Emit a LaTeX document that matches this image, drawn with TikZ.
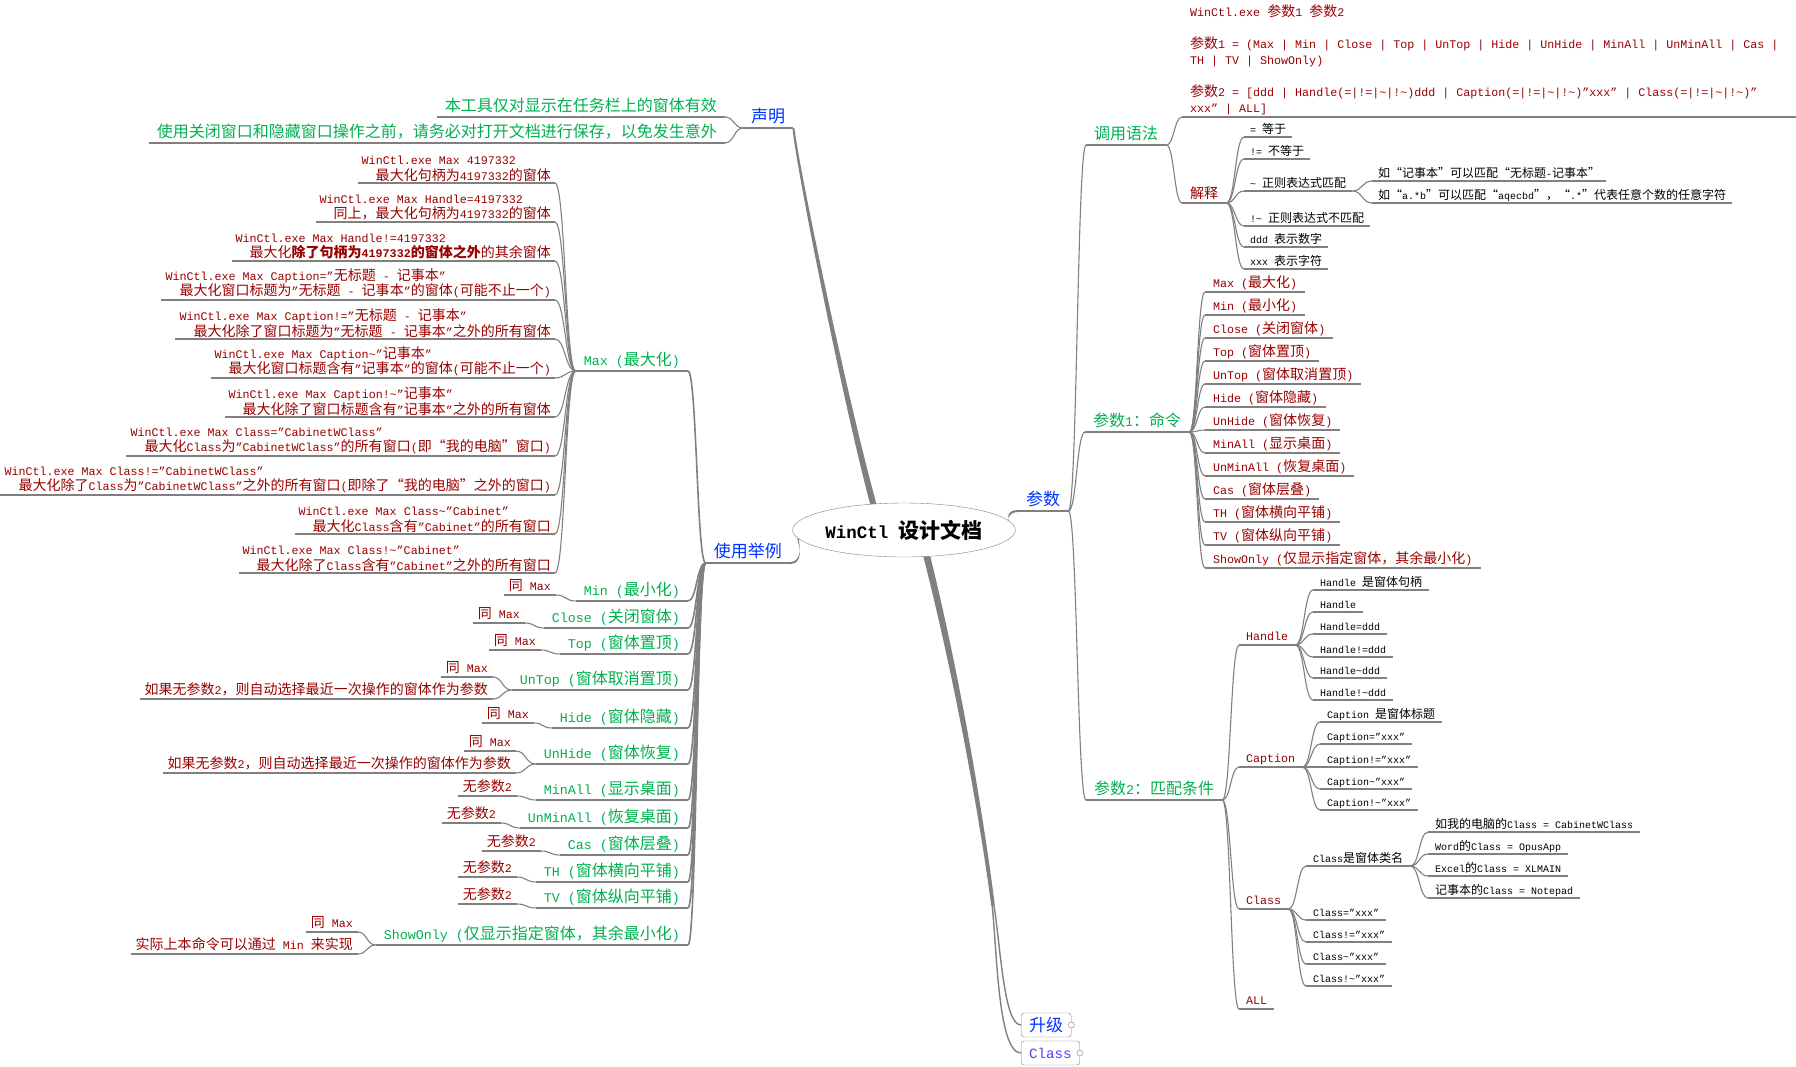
\documentclass[tikz,border=0pt]{standalone}
\usepackage{fontspec}
\setmainfont{Liberation Mono}
\newfontfamily\cjkfont{Noto Sans CJK SC}[Scale=1.2]
\usetikzlibrary{shapes.geometric,calc,backgrounds}
\definecolor{mmred}{HTML}{990000}
\definecolor{mmgreen}{HTML}{00B050}
\definecolor{mmblue}{HTML}{0033FF}
\definecolor{mmviolet}{HTML}{5A3CFF}
\definecolor{mmgray}{HTML}{808080}
\newcommand\tld{\textasciitilde}
% Chinese characters are set in the CJK font, the rest in the mono font
\ifdefined\newXeTeXintercharclass \newXeTeXintercharclass\cjkclass \else \chardef\cjkclass=10 \fi
\newcount\cjkc
\cjkc="3000 \loop\XeTeXcharclass\cjkc=\cjkclass\advance\cjkc by 1 \ifnum\cjkc<"3040 \repeat
\cjkc="4E00 \loop\XeTeXcharclass\cjkc=\cjkclass\advance\cjkc by 1 \ifnum\cjkc<"A000 \repeat
\cjkc="FF00 \loop\XeTeXcharclass\cjkc=\cjkclass\advance\cjkc by 1 \ifnum\cjkc<"FFF0 \repeat
\XeTeXcharclass"201C=\cjkclass
\XeTeXcharclass"201D=\cjkclass
\XeTeXinterchartokenstate=1
\XeTeXinterchartoks 0 \cjkclass={\cjkfont}
\XeTeXinterchartoks 4095 \cjkclass={\cjkfont}
\XeTeXinterchartoks \cjkclass 0={\rmfamily}
\XeTeXinterchartoks \cjkclass 4095={\rmfamily}
\begin{document}
\begin{tikzpicture}
  [x=1pt,y=-1pt,
   every node/.style={inner ysep=1pt},
   every edge/.style={lnk},
   lnk/.style={draw=mmgray,line width=1.1pt,
     to path={let \p1=(\tikztostart),\p2=(\tikztotarget) in
       .. controls ({(\x1+\x2)/2},\y1) and ({(\x1+\x2)/2},\y2) .. (\tikztotarget)}},
   ul/.style={append after command={(\tikzlastnode.south west) edge (\tikzlastnode.south east)}},
   S/.style={ul,font=\fontsize{10}{13}\selectfont,text height=8.5pt,text depth=2.5pt,inner xsep=6pt},
   M/.style={ul,font=\fontsize{11.67}{15.5}\selectfont,text height=10pt,text depth=3pt,inner xsep=8pt},
   L/.style={ul,font=\fontsize{13.33}{18}\selectfont,text height=11.5pt,text depth=3.5pt,inner xsep=8pt,inner ysep=1.5pt,text=mmgreen},
   B/.style={ul,font=\fontsize{14.17}{19}\selectfont,text height=12pt,text depth=3.5pt,inner xsep=8pt,inner ysep=1.5pt,text=mmblue},
   note/.style={M,text=mmred,inner xsep=5pt,anchor=south east},
   two/.style={ul,font=\fontsize{11.67}{15.5}\selectfont,align=left,inner xsep=4pt,inner ysep=1.5pt,text=mmred,anchor=south east},
   cmd/.style={M,text=mmred,anchor=south west},
   cond/.style={S,inner xsep=7pt,anchor=south west},
   root/.style={ellipse,draw=mmgray,fill=white,inner sep=0pt,minimum width=188pt,minimum height=54pt,font=\fontsize{17.5}{22}\selectfont\bfseries},
   box/.style={draw=mmgray,rounded corners=3pt,fill=white,minimum height=24pt,inner xsep=8pt,font=\fontsize{14.17}{19}\selectfont,text=mmblue,anchor=west},
   knob/.style={circle,draw=mmgray,fill=white,inner sep=0pt,minimum size=6pt},
   trunk/.style={fill=mmgray}]
  \useasboundingbox (0,0) rectangle (1796,1066);

  \node[root] (root) at (904,530) {WinCtl 设计文档};

  % left: 声明
  \node[B,anchor=south west] (decl) at (743,128) {声明};
  \node[L,anchor=south east] (d1) at (725,117) {本工具仅对显示在任务栏上的窗体有效};
  \node[L,anchor=south east] (d2) at (725,143) {使用关闭窗口和隐藏窗口操作之前，请务必对打开文档进行保存，以免发生意外};

  % left: 使用举例
  \node[B,anchor=south east] (use) at (790,563) {使用举例};
  \node[L,anchor=south east] (cmax) at (688,371) {Max (最大化)};
  \node[two] (m1) at (555,183) {WinCtl.exe Max 4197332\\\hspace*{14pt}最大化句柄为4197332的窗体};
  \node[two] (m2) at (555,222) {WinCtl.exe Max Handle=4197332\\\hspace*{14pt}同上，最大化句柄为4197332的窗体};
  \node[two] (m3) at (555,261) {WinCtl.exe Max Handle!=4197332\\\hspace*{14pt}最大化{\bfseries 除了句柄为4197332的窗体之外}的其余窗体};
  \node[two] (m4) at (555,300) {WinCtl.exe Max Caption="无标题 - 记事本"\\\hspace*{14pt}最大化窗口标题为"无标题 - 记事本"的窗体(可能不止一个)};
  \node[two] (m5) at (555,339) {WinCtl.exe Max Caption!="无标题 - 记事本"\\\hspace*{14pt}最大化除了窗口标题为"无标题 - 记事本"之外的所有窗体};
  \node[two] (m6) at (555,378) {WinCtl.exe Max Caption\tld"记事本"\\\hspace*{14pt}最大化窗口标题含有"记事本"的窗体(可能不止一个)};
  \node[two] (m7) at (555,417) {WinCtl.exe Max Caption!\tld"记事本"\\\hspace*{14pt}最大化除了窗口标题含有"记事本"之外的所有窗体};
  \node[two] (m8) at (555,456) {WinCtl.exe Max Class="CabinetWClass"\\\hspace*{14pt}最大化Class为"CabinetWClass"的所有窗口(即“我的电脑”窗口)};
  \node[two] (m9) at (555,495) {WinCtl.exe Max Class!="CabinetWClass"\\\hspace*{14pt}最大化除了Class为"CabinetWClass"之外的所有窗口(即除了“我的电脑”之外的窗口)};
  \node[two] (m10) at (555,534) {WinCtl.exe Max Class\tld"Cabinet"\\\hspace*{14pt}最大化Class含有"Cabinet"的所有窗口};
  \node[two] (m11) at (555,573) {WinCtl.exe Max Class!\tld"Cabinet"\\\hspace*{14pt}最大化除了Class含有"Cabinet"之外的所有窗口};

  \node[L,anchor=south east] (cmin) at (688,601) {Min (最小化)};
  \node[L,anchor=south east] (cclose) at (688,628) {Close (关闭窗体)};
  \node[L,anchor=south east] (ctop) at (688,654) {Top (窗体置顶)};
  \node[L,anchor=south east] (cuntop) at (688,690) {UnTop (窗体取消置顶)};
  \node[L,anchor=south east] (chide) at (688,728) {Hide (窗体隐藏)};
  \node[L,anchor=south east] (cunhide) at (688,764) {UnHide (窗体恢复)};
  \node[L,anchor=south east] (cminall) at (688,800) {MinAll (显示桌面)};
  \node[L,anchor=south east] (cunminall) at (688,828) {UnMinAll (恢复桌面)};
  \node[L,anchor=south east] (ccas) at (688,855) {Cas (窗体层叠)};
  \node[L,anchor=south east] (cth) at (688,882) {TH (窗体横向平铺)};
  \node[L,anchor=south east] (ctv) at (688,908) {TV (窗体纵向平铺)};
  \node[L,anchor=south east] (cshow) at (688,945) {ShowOnly (仅显示指定窗体，其余最小化)};

  \node[note] (nmin) at (556,595) {同 Max};
  \node[note] (nclose) at (525,623) {同 Max};
  \node[note] (ntop) at (541,650) {同 Max};
  \node[note] (nuntop) at (493,677) {同 Max};
  \node[note] (nuntop2) at (493,699) {如果无参数2，则自动选择最近一次操作的窗体作为参数};
  \node[note] (nhide) at (534,723) {同 Max};
  \node[note] (nunhide) at (516,751) {同 Max};
  \node[note] (nunhide2) at (516,773) {如果无参数2，则自动选择最近一次操作的窗体作为参数};
  \node[note] (nminall) at (517,796) {无参数2};
  \node[note] (nunminall) at (501,823) {无参数2};
  \node[note] (ncas) at (541,851) {无参数2};
  \node[note] (nth) at (517,877) {无参数2};
  \node[note] (ntv) at (517,904) {无参数2};
  \node[note] (nshow) at (358,932) {同 Max};
  \node[note] (nshow2) at (358,954) {实际上本命令可以通过 Min 来实现};

  % right: 参数
  \node[B,anchor=south west] (par) at (1018,511) {参数};
  \node[L,anchor=south west] (call) at (1086,145) {调用语法};
  \node[ul,anchor=south west,align=left,inner xsep=8pt,inner ysep=1.5pt,
        font=\fontsize{11.67}{16}\selectfont,text=mmred] (syn) at (1182,117)
    {WinCtl.exe 参数1 参数2\\[16pt]
     参数1 = (Max | Min | Close | Top | UnTop | Hide | UnHide | MinAll | UnMinAll | Cas |\\
     TH | TV | ShowOnly)\\[16pt]
     参数2 = [ddd | Handle(=|!=|\tld|!\tld)ddd | Caption(=|!=|\tld|!\tld)"xxx" | Class(=|!=|\tld|!\tld)"\\
     xxx" | ALL]};
  \coordinate (synend) at (1796,117);
  \node[cmd] (expl) at (1182,203) {解释};
  \node[S,anchor=south west] (e1) at (1244,137) {= 等于};
  \node[S,anchor=south west] (e2) at (1244,159) {!= 不等于};
  \node[S,anchor=south west] (e3) at (1244,191) {\tld\ 正则表达式匹配};
  \node[S,anchor=south west] (e3a) at (1372,181) {如“记事本”可以匹配“无标题-记事本”};
  \node[S,anchor=south west] (e3b) at (1372,203) {如“a.*b”可以匹配“aqecbd”，“.*”代表任意个数的任意字符};
  \node[S,anchor=south west] (e4) at (1244,226) {!\tld\ 正则表达式不匹配};
  \node[S,anchor=south west] (e5) at (1244,247) {ddd 表示数字};
  \node[S,anchor=south west] (e6) at (1244,269) {xxx 表示字符};

  \node[L,anchor=south west] (p1) at (1085,432) {参数1：命令};
  \node[cmd] (k1) at (1205,292) {Max (最大化)};
  \node[cmd] (k2) at (1205,315) {Min (最小化)};
  \node[cmd] (k3) at (1205,338) {Close (关闭窗体)};
  \node[cmd] (k4) at (1205,361) {Top (窗体置顶)};
  \node[cmd] (k5) at (1205,384) {UnTop (窗体取消置顶)};
  \node[cmd] (k6) at (1205,407) {Hide (窗体隐藏)};
  \node[cmd] (k7) at (1205,430) {UnHide (窗体恢复)};
  \node[cmd] (k8) at (1205,453) {MinAll (显示桌面)};
  \node[cmd] (k9) at (1205,476) {UnMinAll (恢复桌面)};
  \node[cmd] (k10) at (1205,499) {Cas (窗体层叠)};
  \node[cmd] (k11) at (1205,522) {TH (窗体横向平铺)};
  \node[cmd] (k12) at (1205,545) {TV (窗体纵向平铺)};
  \node[cmd] (k13) at (1205,568) {ShowOnly (仅显示指定窗体，其余最小化)};

  \node[L,anchor=south west] (p2) at (1086,800) {参数2：匹配条件};
  \node[cmd,inner xsep=7pt] (hd) at (1239,645) {Handle};
  \node[cmd,inner xsep=7pt] (cap) at (1239,767) {Caption};
  \node[cmd,inner xsep=7pt] (cls) at (1239,909) {Class};
  \node[cmd,inner xsep=7pt] (all) at (1239,1009) {ALL};
  \node[cond] (h1) at (1313,590) {Handle 是窗体句柄};
  \node[cond] (h2) at (1313,612) {Handle};
  \node[cond] (h3) at (1313,634) {Handle=ddd};
  \node[cond] (h4) at (1313,657) {Handle!=ddd};
  \node[cond] (h5) at (1313,678) {Handle\tld ddd};
  \node[cond] (h6) at (1313,700) {Handle!\tld ddd};
  \node[cond] (t1) at (1320,722) {Caption 是窗体标题};
  \node[cond] (t2) at (1320,744) {Caption="xxx"};
  \node[cond] (t3) at (1320,767) {Caption!="xxx"};
  \node[cond] (t4) at (1320,789) {Caption\tld"xxx"};
  \node[cond] (t5) at (1320,810) {Caption!\tld"xxx"};
  \node[cond] (c0) at (1306,866) {Class是窗体类名};
  \node[cond] (c1) at (1306,920) {Class="xxx"};
  \node[cond] (c2) at (1306,942) {Class!="xxx"};
  \node[cond] (c3) at (1306,964) {Class\tld"xxx"};
  \node[cond] (c4) at (1306,986) {Class!\tld"xxx"};
  \node[cond] (w1) at (1428,832) {如我的电脑的Class = CabinetWClass};
  \node[cond] (w2) at (1428,854) {Word的Class = OpusApp};
  \node[cond] (w3) at (1428,876) {Excel的Class = XLMAIN};
  \node[cond] (w4) at (1428,898) {记事本的Class = Notepad};

  % bottom: collapsed topics
  \node[box] (up) at (1021,1025) {升级};
  \node[box,text=mmviolet] (clsbox) at (1021,1053) {Class};
  \node[knob] (upk) at (up.east) {};
  \node[knob] (clsk) at (clsbox.east) {};

  \path
    (decl.south west) edge (d1.south east)
    (decl.south west) edge (d2.south east)
    (use.south west) edge [line width=1.6pt] (cmax.south east)
    (use.south west) edge [line width=1.6pt] (cmin.south east)
    (use.south west) edge [line width=1.6pt] (cclose.south east)
    (use.south west) edge [line width=1.6pt] (ctop.south east)
    (use.south west) edge [line width=1.6pt] (cuntop.south east)
    (use.south west) edge [line width=1.6pt] (chide.south east)
    (use.south west) edge [line width=1.6pt] (cunhide.south east)
    (use.south west) edge [line width=1.6pt] (cminall.south east)
    (use.south west) edge [line width=1.6pt] (cunminall.south east)
    (use.south west) edge [line width=1.6pt] (ccas.south east)
    (use.south west) edge [line width=1.6pt] (cth.south east)
    (use.south west) edge [line width=1.6pt] (ctv.south east)
    (use.south west) edge [line width=1.6pt] (cshow.south east)
    (cmax.south west) edge (m1.south east)
    (cmax.south west) edge (m2.south east)
    (cmax.south west) edge (m3.south east)
    (cmax.south west) edge (m4.south east)
    (cmax.south west) edge (m5.south east)
    (cmax.south west) edge (m6.south east)
    (cmax.south west) edge (m7.south east)
    (cmax.south west) edge (m8.south east)
    (cmax.south west) edge (m9.south east)
    (cmax.south west) edge (m10.south east)
    (cmax.south west) edge (m11.south east)
    (cmin.south west) edge (nmin.south east)
    (cclose.south west) edge (nclose.south east)
    (ctop.south west) edge (ntop.south east)
    (cuntop.south west) edge (nuntop.south east)
    (cuntop.south west) edge (nuntop2.south east)
    (chide.south west) edge (nhide.south east)
    (cunhide.south west) edge (nunhide.south east)
    (cunhide.south west) edge (nunhide2.south east)
    (cminall.south west) edge (nminall.south east)
    (cunminall.south west) edge (nunminall.south east)
    (ccas.south west) edge (ncas.south east)
    (cth.south west) edge (nth.south east)
    (ctv.south west) edge (ntv.south east)
    (cshow.south west) edge (nshow.south east)
    (cshow.south west) edge (nshow2.south east)
    (par.south east) edge (call.south west)
    (par.south east) edge (p1.south west)
    (par.south east) edge (p2.south west)
    (call.south east) edge (syn.south west)
    (syn.south east) edge (synend)
    (call.south east) edge (expl.south west)
    (expl.south east) edge (e1.south west)
    (expl.south east) edge (e2.south west)
    (expl.south east) edge (e3.south west)
    (expl.south east) edge (e4.south west)
    (expl.south east) edge (e5.south west)
    (expl.south east) edge (e6.south west)
    (e3.south east) edge (e3a.south west)
    (e3.south east) edge (e3b.south west)
    (p1.south east) edge (k1.south west)
    (p1.south east) edge (k2.south west)
    (p1.south east) edge (k3.south west)
    (p1.south east) edge (k4.south west)
    (p1.south east) edge (k5.south west)
    (p1.south east) edge (k6.south west)
    (p1.south east) edge (k7.south west)
    (p1.south east) edge (k8.south west)
    (p1.south east) edge (k9.south west)
    (p1.south east) edge (k10.south west)
    (p1.south east) edge (k11.south west)
    (p1.south east) edge (k12.south west)
    (p1.south east) edge (k13.south west)
    (p2.south east) edge (hd.south west)
    (p2.south east) edge (cap.south west)
    (p2.south east) edge (cls.south west)
    (p2.south east) edge (all.south west)
    (hd.south east) edge (h1.south west)
    (hd.south east) edge (h2.south west)
    (hd.south east) edge (h3.south west)
    (hd.south east) edge (h4.south west)
    (hd.south east) edge (h5.south west)
    (hd.south east) edge (h6.south west)
    (cap.south east) edge (t1.south west)
    (cap.south east) edge (t2.south west)
    (cap.south east) edge (t3.south west)
    (cap.south east) edge (t4.south west)
    (cap.south east) edge (t5.south west)
    (cls.south east) edge (c0.south west)
    (cls.south east) edge (c1.south west)
    (cls.south east) edge (c2.south west)
    (cls.south east) edge (c3.south west)
    (cls.south east) edge (c4.south west)
    (c0.south east) edge (w1.south west)
    (c0.south east) edge (w2.south west)
    (c0.south east) edge (w3.south west)
    (c0.south east) edge (w4.south west)
    ;

  % thick main branches, tapering away from the centre
  \begin{scope}[on background layer]
    \fill[white] (0,0) rectangle (1796,1066);
    \coordinate (rt) at ([xshift=-30,yshift=-4]root.north);
    \coordinate (rl) at ([xshift=5,yshift=-6]root.west);
    \coordinate (rr) at ([xshift=-5,yshift=3]root.east);
    \coordinate (rb) at ([xshift=22,yshift=4]root.south);
    \coordinate (fork) at (993,905);
    \fill[trunk] ([xshift=-3.2]rt) .. controls ([xshift=-2.6]845,400) and ([xshift=-1.3]798,170) .. ([xshift=-1]decl.south east)
      -- ([xshift=1]decl.south east) .. controls ([xshift=1.3]798,170) and ([xshift=2.6]845,400) .. ([xshift=3.2]rt) -- cycle;
    \fill[trunk] ([yshift=3]rl) .. controls ([yshift=2.5]800,546) and ([yshift=1]803,563) .. ([yshift=1]use.south east)
      -- ([yshift=-1]use.south east) .. controls ([yshift=-1]803,563) and ([yshift=-2.5]800,546) .. ([yshift=-3]rl) -- cycle;
    \fill[trunk] ([yshift=3]rr) .. controls ([yshift=2.5]1007,522) and ([yshift=1]1006,511) .. ([yshift=1]par.south west)
      -- ([yshift=-1]par.south west) .. controls ([yshift=-1]1006,511) and ([yshift=-2.5]1007,522) .. ([yshift=-3]rr) -- cycle;
    \fill[trunk] ([xshift=-3.5]rb) .. controls ([xshift=-3]958,680) and ([xshift=-2]982,820) .. ([xshift=-1.8]fork)
      -- ([xshift=1.8]fork) .. controls ([xshift=2]982,820) and ([xshift=3]958,680) .. ([xshift=3.5]rb) -- cycle;
    \draw[mmgray,line width=1.4pt] ([xshift=.9]fork) .. controls ([xshift=.9]1000,950) and (1004,1025) .. (up.west);
    \draw[mmgray,line width=1.4pt] ([xshift=-.9]fork) .. controls ([xshift=-.9]998,952) and (998,1053) .. (clsbox.west);
  \end{scope}
\end{tikzpicture}
\end{document}
